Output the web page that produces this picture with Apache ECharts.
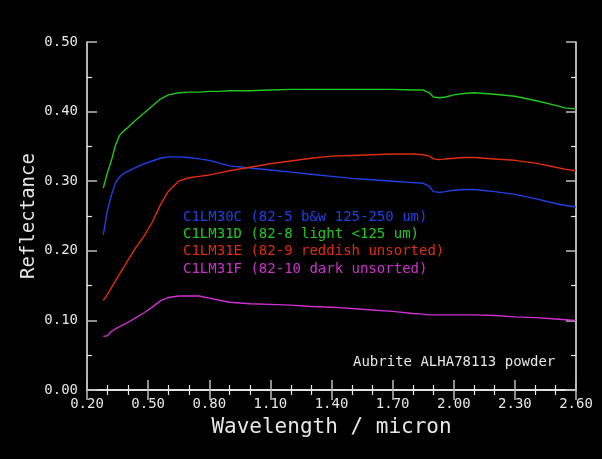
<!DOCTYPE html>
<html>
<head>
<meta charset="utf-8">
<script src="https://cdn.jsdelivr.net/npm/echarts@6/dist/echarts.min.js"></script>
<style>
html,body{margin:0;padding:0;background:#000;}
#chart{width:602px;height:459px;}
</style>
</head>
<body>
<div id="chart"></div>
<script>
var wavelength = [0.28,0.30,0.32,0.34,0.36,0.38,0.40,0.44,0.48,0.52,0.56,0.60,0.65,0.70,0.75,0.80,0.85,0.90,1.0,1.1,1.2,1.3,1.4,1.5,1.6,1.7,1.8,1.85,1.88,1.90,1.93,1.96,2.0,2.05,2.1,2.2,2.3,2.4,2.5,2.55,2.6];
var c1lm30c = [0.223,0.258,0.280,0.298,0.306,0.311,0.314,0.320,0.325,0.329,0.333,0.335,0.335,0.334,0.332,0.330,0.326,0.322,0.319,0.316,0.313,0.310,0.307,0.304,0.302,0.300,0.298,0.297,0.293,0.285,0.284,0.285,0.287,0.288,0.288,0.285,0.281,0.275,0.268,0.265,0.263];
var c1lm31d = [0.290,0.312,0.330,0.352,0.366,0.372,0.377,0.388,0.398,0.408,0.418,0.424,0.427,0.428,0.428,0.429,0.429,0.430,0.430,0.431,0.432,0.432,0.432,0.432,0.432,0.432,0.431,0.431,0.427,0.421,0.420,0.421,0.424,0.426,0.427,0.425,0.422,0.416,0.409,0.405,0.404];
var c1lm31e = [0.129,0.137,0.147,0.157,0.167,0.176,0.186,0.205,0.221,0.241,0.266,0.286,0.300,0.305,0.307,0.309,0.312,0.315,0.320,0.325,0.329,0.333,0.336,0.337,0.338,0.339,0.339,0.338,0.336,0.332,0.331,0.332,0.333,0.334,0.334,0.332,0.330,0.326,0.320,0.317,0.315];
var c1lm31f = [0.077,0.078,0.084,0.088,0.091,0.094,0.097,0.104,0.111,0.119,0.128,0.133,0.135,0.135,0.135,0.132,0.129,0.126,0.124,0.123,0.122,0.120,0.119,0.117,0.115,0.113,0.110,0.109,0.108,0.108,0.108,0.108,0.108,0.108,0.108,0.107,0.105,0.104,0.102,0.101,0.100];
var seriesNames = ['C1LM30C (82-5 b&w 125-250 um)','C1LM31D (82-8 light <125 um)','C1LM31E (82-9 reddish unsorted)','C1LM31F (82-10 dark unsorted)'];
var seriesColors = ['#2040e8','#20c820','#e02c10','#d030d0'];
var seriesValues = [c1lm30c, c1lm31d, c1lm31e, c1lm31f];
var xTitle = 'Wavelength / micron';
var yTitle = 'Reflectance';
var noteText = 'Aubrite ALHA78113 powder';

var FONT = "'DejaVu Sans Mono', 'Liberation Mono', monospace";
var chart = echarts.init(document.getElementById('chart'), null, {renderer:'canvas'});

function pairs(ys){ return wavelength.map(function(x,i){ return [x, ys[i]]; }); }

function xAxisCfg(pos, showLabel){
  return {
    type:'value', position:pos, min:0.2, max:2.6, interval:0.3,
    axisLine:{show:true, lineStyle:{color:'#f0f0f0', width:1.5}},
    axisTick:{show:true, inside:true, length:10, lineStyle:{color:'#bdbdbd', width:1.5}},
    minorTick:{show:true, splitNumber:3, length:5, lineStyle:{color:'#e8e8e8', width:1.2}},
    splitLine:{show:false}, minorSplitLine:{show:false},
    axisLabel:{show:showLabel, color:'#e6e6e6', fontFamily:FONT, fontSize:14, margin:7,
      formatter:function(v){ return v.toFixed(2); }},
    name: showLabel ? xTitle : '', nameLocation:'middle', nameGap:27,
    nameTextStyle:{color:'#e6e6e6', fontFamily:FONT, fontSize:21}
  };
}
function yAxisCfg(pos, showLabel){
  return {
    type:'value', position:pos, min:0, max:0.5, interval:0.1,
    axisLine:{show:true, lineStyle:{color:'#f0f0f0', width:1.5}},
    axisTick:{show:true, inside:true, length:10, lineStyle:{color:'#bdbdbd', width:1.5}},
    minorTick:{show:true, splitNumber:2, length:5, lineStyle:{color:'#e8e8e8', width:1.2}},
    splitLine:{show:false}, minorSplitLine:{show:false},
    axisLabel:{show:showLabel, color:'#e6e6e6', fontFamily:FONT, fontSize:14, margin:9,
      formatter:function(v){ return v.toFixed(2); }},
    name: showLabel ? yTitle : '', nameLocation:'middle', nameGap:48, nameRotate:90,
    nameMoveOverlap:false,
    nameTextStyle:{color:'#e6e6e6', fontFamily:FONT, fontSize:19}
  };
}

var series = seriesNames.map(function(n,i){
  return {
    name:n, type:'line', xAxisIndex:0, yAxisIndex:0,
    data:pairs(seriesValues[i]), showSymbol:false, symbol:'none',
    lineStyle:{color:seriesColors[i], width:1.4}, itemStyle:{color:seriesColors[i]},
    animation:false
  };
});

chart.setOption({
  backgroundColor:'#000',
  animation:false,
  grid:{left:87, right:26, top:42, bottom:69, show:false},
  xAxis:[xAxisCfg('bottom', true), xAxisCfg('top', false)],
  yAxis:[yAxisCfg('left', true), yAxisCfg('right', false)],
  legend:{
    orient:'vertical', left:173, top:205, icon:'none', itemWidth:0, itemHeight:14, itemGap:3.4,
    selectedMode:false,
    data: seriesNames.map(function(n,i){ return {name:n, textStyle:{color:seriesColors[i]}}; }),
    textStyle:{fontFamily:FONT, fontSize:14, padding:0}
  },
  graphic:[{
    type:'text', left:353, top:355,
    style:{text:noteText, fill:'#e6e6e6', font:"14px 'DejaVu Sans Mono', monospace"}
  }],
  series:series
});
</script>
</body>
</html>
